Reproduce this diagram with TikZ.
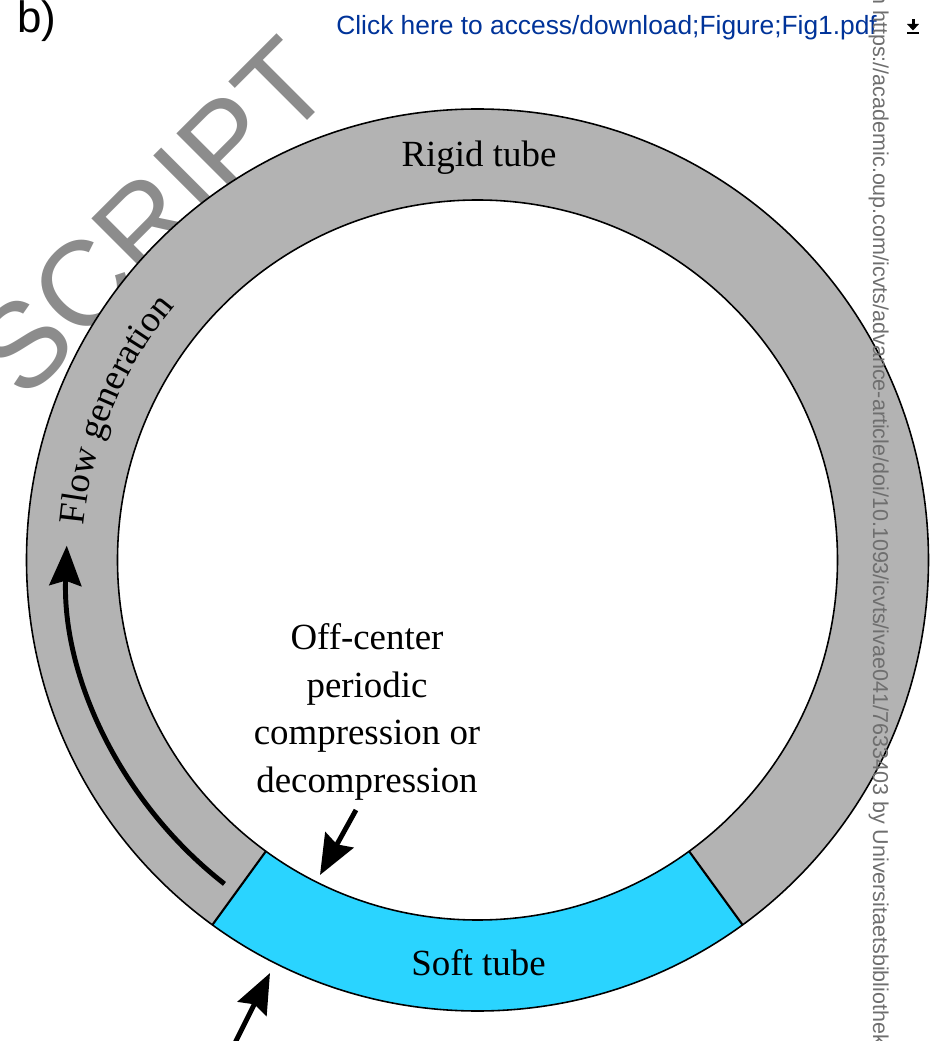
\documentclass[tikz,border=0pt]{standalone}
\usepackage{fontspec}
\setmainfont{Liberation Serif}
\newfontfamily\arialfont{Liberation Sans}
\usepackage{tikz}
\usetikzlibrary{arrows.meta,decorations.text}
\definecolor{rigidgray}{HTML}{B3B3B3}
\definecolor{softblue}{HTML}{2AD4FF}
\definecolor{linkblue}{HTML}{003399}
\definecolor{markgray}{HTML}{8C8C8C}
\definecolor{stampgray}{HTML}{6E6E6E}
\tikzset{
  lbl/.style={font=\fontsize{21}{27.2}\selectfont,inner sep=0pt},
  bigarrow/.style={-{Stealth[length=0.8cm,width=0.64cm,inset=0.1cm]},line width=2.8pt},
}

\begin{document}
\begin{tikzpicture}[x=0.02cm,y=0.02cm]
  \useasboundingbox (-477.5,-481) rectangle (455.5,560);
  \clip (-477.5,-481) rectangle (455.5,560);
  \def\ri{360}\def\ro{451}
  % watermark under the ring
  \node[font=\arialfont\fontsize{68.6}{68.6}\selectfont,text=markgray,rotate=45,anchor=base east,inner sep=0pt] (wmark) at (-140,470) {SCRIPT};
  % ring: rigid part, then soft part
  \fill[rigidgray,even odd rule] (0,0) circle (\ro) (0,0) circle (\ri);
  \fill[softblue] (-126:\ri) arc (-126:-54:\ri) -- (-54:\ro) arc (-54:-126:\ro) -- cycle;
  \draw[line width=0.9pt] (0,0) circle (\ro) (0,0) circle (\ri);
  \draw[line width=1.2pt] (-126:\ri) -- (-126:\ro) (-54:\ri) -- (-54:\ro);
  \node[lbl,anchor=base] (rigid) at (1.5,393) {Rigid tube};
  \node[lbl,anchor=base] (soft) at (1,-415) {Soft tube};
  \path[decorate,decoration={text along path,text align=center,
    text={|\fontsize{21}{21}\selectfont|Flow generation}}] (190:395) arc (190:125:395);
  \coordinate (flowtail) at (232:411);
  \draw[bigarrow] (flowtail) arc (232:178:411);
  % compression arrows
  \node[lbl,align=center,anchor=north] (press) at (-110.5,-63) {Off-center\\periodic\\compression or\\decompression};
  \coordinate (presstail) at (-121.5,-250);\coordinate (presstip) at (-157.5,-315);
  \draw[bigarrow] (presstail) -- (presstip);
  \coordinate (pushtail) at (-242,-482);\coordinate (pushtip) at (-207.5,-413);
  \draw[bigarrow] (pushtail) -- (pushtip);
  % page furniture
  \node[font=\arialfont\fontsize{25}{25}\selectfont,anchor=base west,inner sep=0pt] (panel) at (-460.5,527) {b)};
  \node[font=\arialfont\fontsize{15}{15}\selectfont,text=linkblue,anchor=base west,inner sep=0pt] (link) at (-141.5,525) {Click here to access/download;Figure;Fig1.pdf};
  \fill (434,541) rectangle (437,535);
  \fill (429.5,536) -- (441.5,536) -- (435.5,529.5) -- cycle;
  \fill (429.5,527.5) rectangle (441.5,525.5);
  \node[font=\arialfont\fontsize{12.25}{12.25}\selectfont,text=stampgray,rotate=-90,anchor=base west,inner sep=0pt] (stamp) at (395.5,550) {\llap{from }https://academic.oup.com/icvts/advance-article/doi/10.1093/icvts/ivae041/7633403 by Universitaetsbibliothek};
\end{tikzpicture}
\end{document}
